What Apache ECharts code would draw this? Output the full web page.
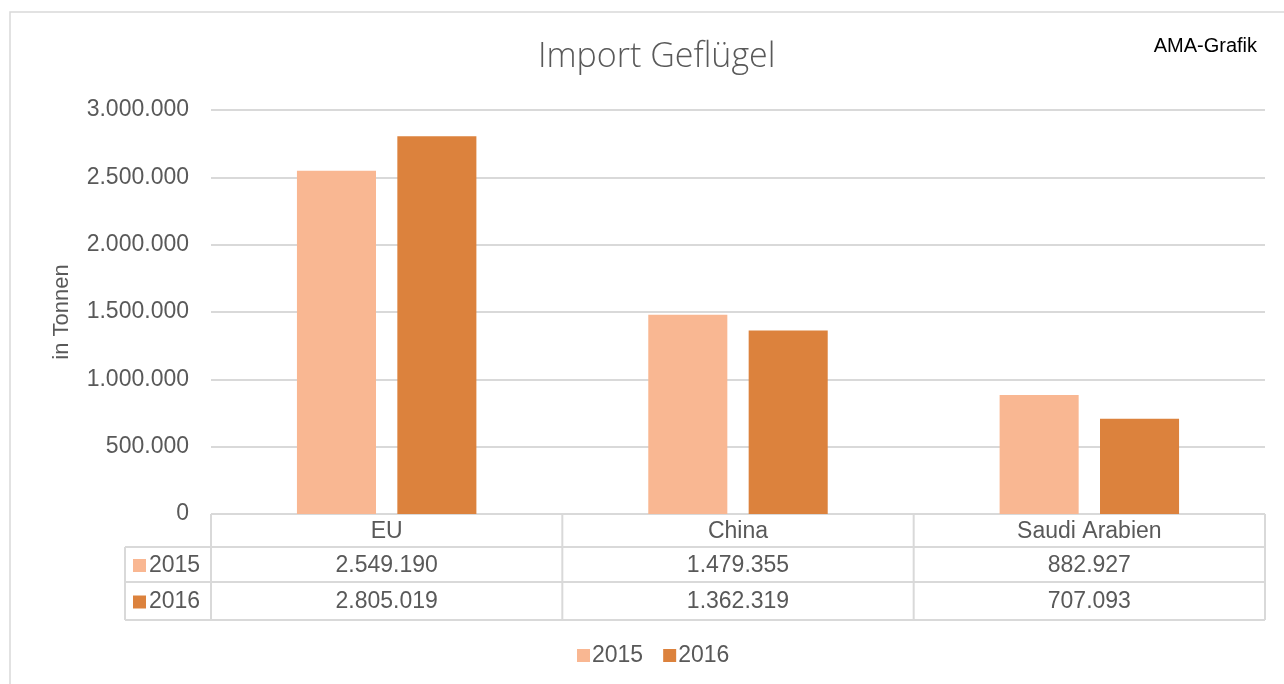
<!DOCTYPE html>
<html><head><meta charset="utf-8">
<script src="https://cdn.jsdelivr.net/npm/echarts@6/dist/echarts.min.js"></script>
<style>html,body{margin:0;padding:0;background:#fff}#c{width:1284px;height:684px}</style>
</head><body><div id="c"></div>
<script>
const categories = ['EU', 'China', 'Saudi Arabien'];
const seriesNames = ['2015', '2016'];
const values2015 = [2549190, 1479355, 882927];
const values2016 = [2805019, 1362319, 707093];
const colors = ['#F9B792', '#DC823D'];
const yTicks = [0, 500000, 1000000, 1500000, 2000000, 2500000, 3000000];

function fmt(v){ return String(Math.round(v)).replace(/\B(?=(\d{3})+(?!\d))/g, '.'); }

const chart = echarts.init(document.getElementById('c'));
const FONT = '"Liberation Sans", Arial, sans-serif';
const TXT = '#595959';
chart.setOption({
  animation: false,
  backgroundColor: '#fff',
  title: { text: 'Import Geflügel', left: 533, top: 35, textStyle: { fontFamily: '"Open Sans", sans-serif', fontWeight: 300, fontSize: 34, color: TXT } },
  legend: { bottom: 12, left: 572, itemWidth: 13, itemHeight: 13, itemGap: 20, icon: 'rect',
    textStyle: { fontFamily: FONT, fontSize: 23, color: TXT, padding: [0,0,0,-3] }, data: seriesNames },
  grid: { left: 211, right: 19, top: 110, bottom: 170 },
  xAxis: { type: 'category', data: categories, axisLine: { show: false }, axisTick: { show: false }, axisLabel: { show: false } },
  yAxis: { type: 'value', min: 0, max: 3000000, interval: 500000,
    name: 'in Tonnen', nameLocation: 'middle', nameGap: 138, nameRotate: 90,
    nameTextStyle: { fontFamily: FONT, fontSize: 22, color: TXT },
    axisLabel: { fontFamily: FONT, fontSize: 23, color: TXT, margin: 22, formatter: v => fmt(v) },
    splitLine: { lineStyle: { color: '#d9d9d9', width: 2 } } },
  series: [
    { name: seriesNames[0], type: 'bar', data: values2015, itemStyle: { color: colors[0] }, barWidth: '22.5%', barGap: '27%' },
    { name: seriesNames[1], type: 'bar', data: values2016, itemStyle: { color: colors[1] }, barWidth: '22.5%' }
  ]
});

// data table below the plot, positioned from the grid rect
const rect = chart.getModel().getComponent('grid').coordinateSystem.getRect();
const x0 = rect.x, x1 = rect.x + rect.width, yb = rect.y + rect.height;
const rowH = [33, 35, 38];
const labelLeft = x0 - 86;
const lc = '#d9d9d9';
const els = [];
const line = (ax, ay, bx, by) => els.push({ type: 'line', shape: { x1: ax, y1: ay, x2: bx, y2: by }, style: { stroke: lc, lineWidth: 2 }, silent: true });
const r1 = yb + rowH[0], r2 = r1 + rowH[1], r3 = r2 + rowH[2];
line(x0, yb, x1, yb);
line(labelLeft, r1, x1, r1);
line(labelLeft, r2, x1, r2);
line(labelLeft, r3, x1, r3);
line(labelLeft, r1, labelLeft, r3);
const colW = rect.width / categories.length;
for (let i = 0; i <= categories.length; i++) line(x0 + i * colW, yb, x0 + i * colW, r3);
const txt = (t, x, y, align) => els.push({ type: 'text', x: x, y: y, style: { text: t, fill: TXT, font: '23px ' + FONT, textAlign: align || 'center', textVerticalAlign: 'middle' }, silent: true });
const rows = [values2015, values2016];
categories.forEach((c, i) => {
  const cx = chart.convertToPixel({ xAxisIndex: 0 }, c);
  txt(c, cx, yb + rowH[0] / 2 + 1);
  rows.forEach((arr, r) => txt(fmt(arr[i]), cx, (r === 0 ? r1 + rowH[1] / 2 : r2 + rowH[2] / 2) + 1));
});
rows.forEach((arr, r) => {
  const cy = (r === 0 ? r1 + rowH[1] / 2 : r2 + rowH[2] / 2) + 1;
  els.push({ type: 'rect', shape: { x: labelLeft + 8, y: cy - 6.5, width: 13, height: 13 }, style: { fill: colors[r] }, silent: true });
  txt(seriesNames[r], labelLeft + 24, cy, 'left');
});
// outer chart border and source note
els.push({ type: 'rect', shape: { x: 10, y: 12, width: 1290, height: 700 }, style: { fill: 'none', stroke: lc, lineWidth: 1.5 }, silent: true });
els.push({ type: 'text', right: 27, top: 36, style: { text: 'AMA-Grafik', fill: '#000', font: '20px ' + FONT }, silent: true });
chart.setOption({ graphic: { elements: els } });
</script></body></html>
